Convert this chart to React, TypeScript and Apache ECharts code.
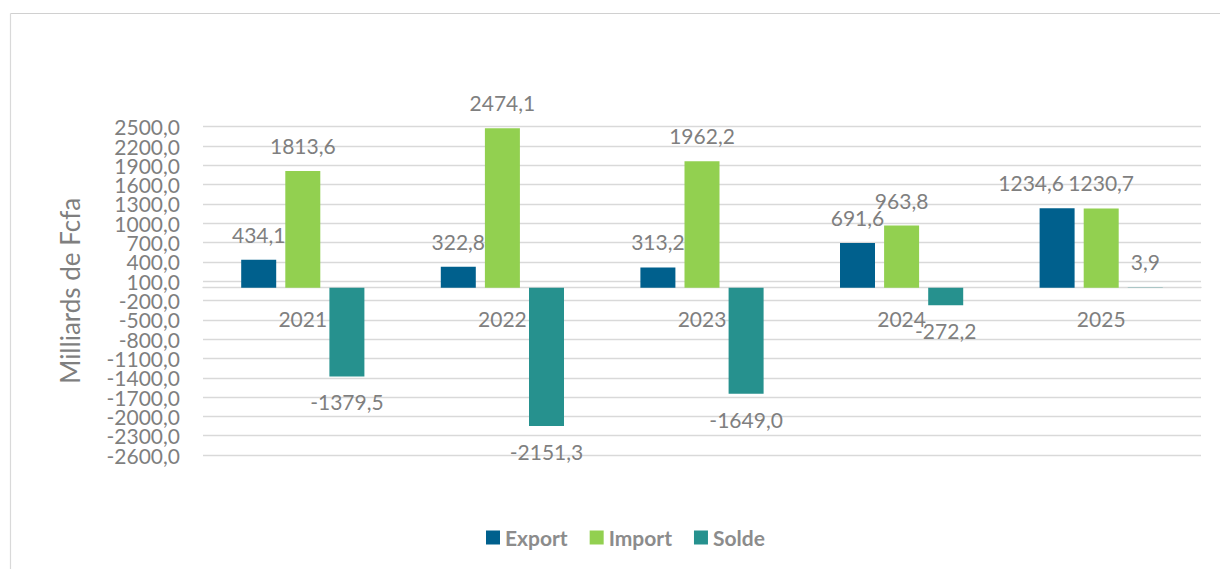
import React, { useEffect, useRef } from "react";
import * as echarts from "echarts";

const categories = ["2021", "2022", "2023", "2024", "2025"];
const exportValues = [434.1, 322.8, 313.2, 691.6, 1234.6];
const importValues = [1813.6, 2474.1, 1962.2, 963.8, 1230.7];
const soldeValues = [-1379.5, -2151.3, -1649.0, -272.2, 3.9];
const seriesNames = ["Export", "Import", "Solde"];
const axisTitle = "Milliards de Fcfa";
const yMin = -2600;
const yMax = 2500;
const yStep = 300;

const FONT = "Lato, 'Open Sans', sans-serif";
const TEXT = "#7F7F7F";

const fmt = (v: number) => v.toFixed(1).replace(".", ",");

export default function App() {
  const ref = useRef<HTMLDivElement>(null);
  useEffect(() => {
    if (!ref.current) return;
    const chart = echarts.init(ref.current, undefined, { renderer: "svg" });
    const label = {
      show: true,
      position: "outside",
      distance: 15,
      color: TEXT,
      fontSize: 21,
      fontFamily: FONT,
      formatter: (p: any) => fmt(p.value as number),
    };
    const barCommon = {
      type: "bar",
      barWidth: 35,
      barGap: "26%",
      label,
    };
    const yLabelBase = {
      color: TEXT,
      fontSize: 21,
      fontFamily: FONT,
      margin: 23,
      hideOverlap: false,
    };
    chart.setOption({
      animation: false,
      backgroundColor: "#ffffff",
      textStyle: { fontFamily: FONT },
      graphic: [
        {
          type: "line",
          shape: { x1: 10.5, y1: 13.5, x2: 1220, y2: 13.5 },
          style: { stroke: "#D0D0D0", lineWidth: 1.2 },
        },
        {
          type: "line",
          shape: { x1: 10.5, y1: 13.5, x2: 10.5, y2: 569 },
          style: { stroke: "#D9D9D9", lineWidth: 1.2 },
        },
      ],
      grid: { left: 203, right: 19, top: 126.7, bottom: 114 },
      legend: {
        data: seriesNames,
        left: 481,
        top: 522,
        itemWidth: 14,
        itemHeight: 14,
        itemGap: 22,
        icon: "rect",
        textStyle: { color: "#8C8C8C", fontSize: 21, fontWeight: "bold", fontFamily: FONT },
      },
      xAxis: {
        type: "category",
        data: categories,
        axisLine: { show: true, onZero: false, lineStyle: { color: "#D9D9D9", width: 1.3 } },
        axisTick: { show: false },
        axisLabel: { color: TEXT, fontSize: 21, fontFamily: FONT, margin: 20 },
        splitLine: { show: false },
      },
      yAxis: [
        {
          type: "value",
          position: "left",
          min: yMin,
          max: yMax,
          interval: yStep,
          name: axisTitle,
          nameLocation: "middle",
          nameRotate: 90,
          nameGap: 120,
          nameTextStyle: { color: TEXT, fontSize: 26, fontFamily: FONT },
          axisLine: { show: false },
          axisTick: { show: false },
          axisLabel: {
            ...yLabelBase,
            showMinLabel: true,
            showMaxLabel: true,
            formatter: (v: number) => (v === yMin || v === yMax ? fmt(v) : ""),
          },
          splitLine: { show: true, lineStyle: { color: "#D9D9D9", width: 1.3 } },
        },
        {
          type: "value",
          position: "left",
          min: yMin,
          max: yMax,
          interval: yStep,
          axisLine: { show: false },
          axisTick: { show: false },
          axisLabel: {
            ...yLabelBase,
            showMinLabel: false,
            showMaxLabel: false,
            formatter: (v: number) => fmt(v),
          },
          splitLine: { show: false },
        },
      ],
      series: [
        {
          ...barCommon,
          name: seriesNames[0],
          itemStyle: { color: "#00608D" },
          data: exportValues.map((v, i) =>
            i === 4 ? { value: v, label: { offset: [-26, 0] } } : v
          ),
        },
        {
          ...barCommon,
          name: seriesNames[1],
          itemStyle: { color: "#92D050" },
          data: importValues,
        },
        {
          ...barCommon,
          name: seriesNames[2],
          itemStyle: { color: "#26918E" },
          data: soldeValues,
        },
      ],
    });
    // move the category axis (line and labels) onto the value axis' zero
    const zeroY = chart.convertToPixel({ yAxisIndex: 0 }, 0) as number;
    const bottomY = chart.convertToPixel({ yAxisIndex: 0 }, yMin) as number;
    chart.setOption({ xAxis: { offset: zeroY - bottomY } });
    return () => chart.dispose();
  }, []);
  return (
    <div
      ref={ref}
      style={{ position: "absolute", left: 0, top: 0, width: 1220, height: 569 }}
    />
  );
}
